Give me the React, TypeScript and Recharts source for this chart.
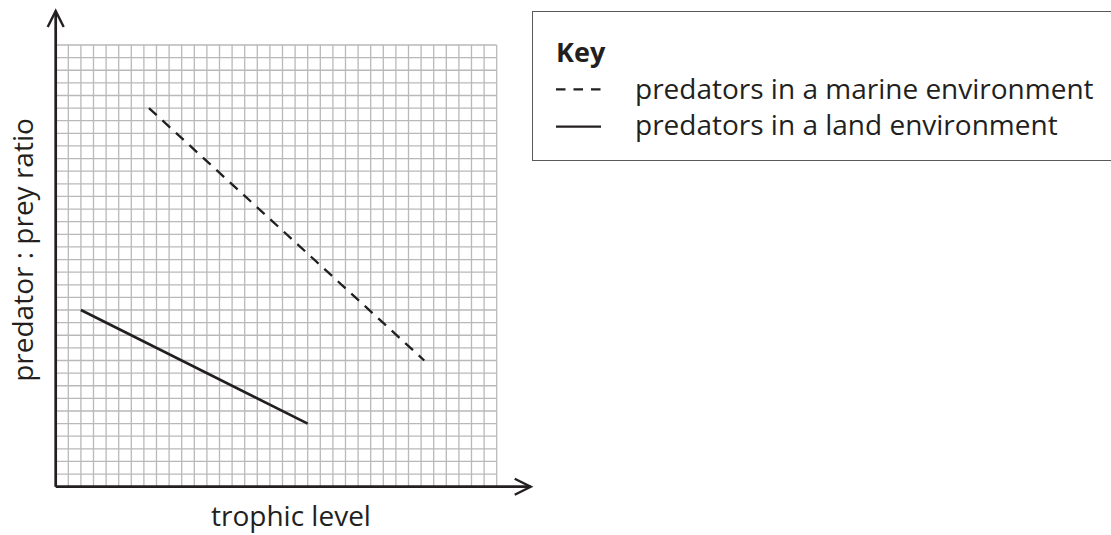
import React from 'react';
import { LineChart, Line, XAxis, YAxis, CartesianGrid, ReferenceLine } from 'recharts';

// grid is 35 x 35 small squares, values read in squares from the bottom-left corner
const gridSize = 35;
const axisEnd = 37.7; // axes run past the grid to the arrow heads

const marineX = [7.4, 29.25];
const marineY = [30, 10];
const landX = [2, 20];
const landY = [14, 5];

const keyTitle = 'Key';
const marineLabel = 'predators in a marine environment';
const landLabel = 'predators in a land environment';
const xLabel = 'trophic level';
const yLabel = 'predator : prey ratio';

const ink = '#231f20';
const font = '"Open Sans", "Noto Sans", sans-serif';

const toPoints = (xs: number[], ys: number[]) => xs.map((x, i) => ({ x, y: ys[i] }));
const marine = toPoints(marineX, marineY);
const land = toPoints(landX, landY);

function AxisArrow(props: any) {
  const { x1, y1, x2, y2 } = props;
  const len = Math.hypot(x2 - x1, y2 - y1) || 1;
  const ux = (x2 - x1) / len;
  const uy = (y2 - y1) / len;
  const back = 16;
  const side = 8;
  const bx = x2 - ux * back;
  const by = y2 - uy * back;
  return (
    <g>
      <line x1={x1} y1={y1} x2={x2} y2={y2} stroke={ink} strokeWidth={2.7} />
      <polyline
        points={`${bx - uy * side},${by + ux * side} ${x2},${y2} ${bx + uy * side},${by - ux * side}`}
        fill="none" stroke={ink} strokeWidth={2.4} strokeLinejoin="miter"
      />
    </g>
  );
}

const gridLines = (start: number, size: number) =>
  Array.from({ length: gridSize + 1 }, (_, i) => start + (i * size) / gridSize);

function KeyBox() {
  return (
    <div style={{
      position: 'absolute', left: 532, top: 11, width: 620, height: 150,
      border: '1.5px solid #5a5a5a', boxSizing: 'border-box', background: '#fff',
    }}>
      <svg width={620} height={150} style={{ position: 'absolute', left: -1.5, top: -1.5 }}>
        <text x={24} y={50.7} fontFamily={font} fontWeight={700} fontSize={27} fill={ink}>{keyTitle}</text>
        <line x1={24} y1={78.3} x2={69} y2={78.3} stroke={ink} strokeWidth={2.2} strokeDasharray="9.5 8" />
        <text x={103} y={87.5} fontFamily={font} fontSize={28} fill={ink}>{marineLabel}</text>
        <line x1={24} y1={115.7} x2={69} y2={115.7} stroke={ink} strokeWidth={2.2} />
        <text x={103} y={124} fontFamily={font} fontSize={28} fill={ink}>{landLabel}</text>
      </svg>
    </div>
  );
}

export default function App() {
  return (
    <div style={{
      position: 'absolute', left: 0, top: 0, width: 1111, height: 535,
      overflow: 'hidden', background: '#fff',
    }}>
      <LineChart
        width={1111}
        height={535}
        margin={{ top: 45, left: 55.7, right: 614.3, bottom: 48.3 }}
      >
        <XAxis type="number" dataKey="x" domain={[0, gridSize]} hide allowDataOverflow />
        <YAxis type="number" dataKey="y" domain={[0, gridSize]} hide allowDataOverflow />
        <CartesianGrid
          stroke="#b9b9b9"
          strokeWidth={1.3}
          verticalCoordinatesGenerator={({ offset }: any) => gridLines(offset.left, offset.width)}
          horizontalCoordinatesGenerator={({ offset }: any) => gridLines(offset.top, offset.height)}
        />
        <ReferenceLine
          segment={[{ x: 0, y: 0 }, { x: axisEnd, y: 0 }]}
          ifOverflow="visible"
          shape={AxisArrow}
        />
        <ReferenceLine
          segment={[{ x: 0, y: 0 }, { x: 0, y: axisEnd }]}
          ifOverflow="visible"
          shape={AxisArrow}
        />
        <Line
          data={marine} dataKey="y" type="linear" stroke={ink} strokeWidth={2.3}
          strokeDasharray="10.5 7.8" dot={false} activeDot={false} isAnimationActive={false}
        />
        <Line
          data={land} dataKey="y" type="linear" stroke={ink} strokeWidth={2.6}
          dot={false} activeDot={false} isAnimationActive={false}
        />
        <text x={291} y={526} textAnchor="middle" fontFamily={font} fontSize={28} fill={ink}>{xLabel}</text>
        <text
          x={33} y={250} textAnchor="middle" fontFamily={font} fontSize={28} fill={ink}
          transform="rotate(-90 33 250)"
        >
          {yLabel}
        </text>
      </LineChart>
      <KeyBox />
    </div>
  );
}
